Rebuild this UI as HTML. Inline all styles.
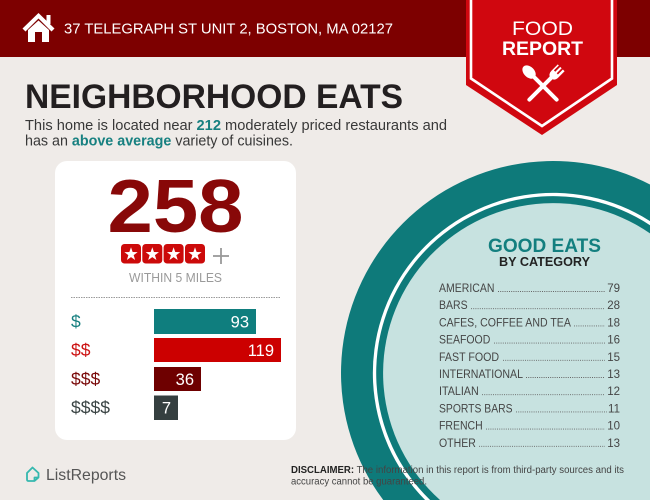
<!DOCTYPE html>
<html><head><meta charset="utf-8"><style>
html,body{margin:0;padding:0;background:#efebe8;width:650px;height:500px;overflow:hidden;}
svg{display:block;font-family:"Liberation Sans",sans-serif;}
</style></head><body>
<svg width="650" height="500" viewBox="0 0 650 500" xmlns="http://www.w3.org/2000/svg">
<rect x="0" y="0" width="650" height="500" fill="#efebe8"/>
<!-- header -->
<rect x="0" y="0" width="650" height="57" fill="#7d0000"/>
<!-- house icon -->
<polygon points="38.5,13 54.5,28.5 51.5,31.5 38.5,18.5 25.5,31.5 22.5,28.5" fill="#fff"/>
<rect x="46.5" y="15" width="4" height="9" fill="#fff"/>
<path d="M28,30 L38.5,20.5 L49,30 L49,42 L42,42 L42,32 L35,32 L35,42 L28,42 Z" fill="#fff"/>
<text x="64" y="33.5" font-size="15" fill="#fff" textLength="329" lengthAdjust="spacingAndGlyphs">37 TELEGRAPH ST UNIT 2, BOSTON, MA 02127</text>

<!-- banner -->
<polygon points="466,0 617,0 617,85 542,135 466,85" fill="#d0070f"/>
<polyline points="471,0 471,78.5 542,126 612,78.5 612,0" fill="none" stroke="#fff" stroke-width="2.6"/>
<text x="542.5" y="35" font-size="19.5" fill="#fff" text-anchor="middle" textLength="61" lengthAdjust="spacingAndGlyphs">FOOD</text>
<text x="542.5" y="55" font-size="19" font-weight="bold" fill="#fff" text-anchor="middle" textLength="81" lengthAdjust="spacingAndGlyphs">REPORT</text>
<!-- spoon -->
<g transform="translate(534,77) rotate(-45)" fill="#fff">
  <ellipse cx="0" cy="-7" rx="5.3" ry="7.8"/>
  <rect x="-2" y="-1" width="4" height="35" rx="2"/>
</g>
<!-- fork -->
<g transform="translate(552,77) rotate(45)" fill="#fff">
  <path d="M-4.8,-13 L-3.3,-13 L-3.3,-6 L-1.4,-6 L-1.4,-13 L0.7,-13 L0.7,-6 L2.4,-6 L2.4,-13 L4.8,-13 L4.8,-4 Q4.8,1 0,2 Q-4.8,1 -4.8,-4 Z"/>
  <rect x="-2" y="0" width="4" height="34" rx="2"/>
</g>

<!-- title -->
<text x="25" y="108" font-size="34" font-weight="bold" fill="#231f20" textLength="378" lengthAdjust="spacingAndGlyphs">NEIGHBORHOOD EATS</text>
<text x="25" y="130" font-size="14.6" fill="#383838" textLength="422" lengthAdjust="spacingAndGlyphs">This home is located near <tspan font-weight="bold" fill="#178080">212</tspan> moderately priced restaurants and</text>
<text x="25" y="145.5" font-size="14.6" fill="#383838" textLength="268" lengthAdjust="spacingAndGlyphs">has an <tspan font-weight="bold" fill="#178080">above average</tspan> variety of cuisines.</text>

<!-- card -->
<rect x="55" y="161" width="241" height="279" rx="12" fill="#fff"/>
<text x="175.5" y="232" font-size="75" font-weight="bold" fill="#880808" text-anchor="middle" textLength="136" lengthAdjust="spacingAndGlyphs">258</text>
<g>
  <rect x="121" y="244" width="20" height="19.5" rx="3.5" fill="#cc0a0a"/>
  <rect x="142.3" y="244" width="20" height="19.5" rx="3.5" fill="#cc0a0a"/>
  <rect x="163.6" y="244" width="20" height="19.5" rx="3.5" fill="#cc0a0a"/>
  <rect x="185" y="244" width="20" height="19.5" rx="3.5" fill="#cc0a0a"/>
  <g fill="#fff">
    <polygon transform="translate(131,254.3)" points="0,-7 1.646,-2.265 6.657,-2.163 2.663,0.865 4.114,5.663 0,2.8 -4.114,5.663 -2.663,0.865 -6.657,-2.163 -1.646,-2.265"/>
    <polygon transform="translate(152.3,254.3)" points="0,-7 1.646,-2.265 6.657,-2.163 2.663,0.865 4.114,5.663 0,2.8 -4.114,5.663 -2.663,0.865 -6.657,-2.163 -1.646,-2.265"/>
    <polygon transform="translate(173.6,254.3)" points="0,-7 1.646,-2.265 6.657,-2.163 2.663,0.865 4.114,5.663 0,2.8 -4.114,5.663 -2.663,0.865 -6.657,-2.163 -1.646,-2.265"/>
    <polygon transform="translate(195,254.3)" points="0,-7 1.646,-2.265 6.657,-2.163 2.663,0.865 4.114,5.663 0,2.8 -4.114,5.663 -2.663,0.865 -6.657,-2.163 -1.646,-2.265"/>
  </g>
  <line x1="213" y1="256" x2="229" y2="256" stroke="#999" stroke-width="1.8"/>
  <line x1="221" y1="248" x2="221" y2="264" stroke="#999" stroke-width="1.8"/>
</g>
<text x="175.5" y="282" font-size="12.5" fill="#9a9a9a" text-anchor="middle" textLength="93" lengthAdjust="spacingAndGlyphs">WITHIN 5 MILES</text>
<line x1="71" y1="297.5" x2="281" y2="297.5" stroke="#9a9a9a" stroke-width="1" stroke-dasharray="1.5,1"/>

<!-- price bars -->
<text x="71" y="327.5" font-size="17.5" fill="#178080">$</text>
<text x="71" y="356" font-size="17.5" fill="#cc1111">$$</text>
<text x="71" y="385" font-size="17.5" fill="#7a0a0a">$$$</text>
<text x="71" y="413.5" font-size="17.5" fill="#3a4444">$$$$</text>
<rect x="154" y="309" width="102" height="25" fill="#0f7e7e"/>
<rect x="154" y="338" width="127" height="24" fill="#cc0000"/>
<rect x="154" y="367" width="47" height="24" fill="#6e0000"/>
<rect x="154" y="395.5" width="24" height="24.5" fill="#353f40"/>
<text x="249" y="327.5" font-size="16.5" fill="#fff" text-anchor="end">93</text>
<text x="274" y="356" font-size="16.5" fill="#fff" text-anchor="end">119</text>
<text x="194" y="385" font-size="16.5" fill="#fff" text-anchor="end">36</text>
<text x="171" y="413.5" font-size="16.5" fill="#fff" text-anchor="end">7</text>

<!-- circle (pre-clipped to frame) -->
<path d="M383.25,500 A212,212 0 0 1 650,184.5 L650,500 Z" fill="#0e7a7a"/>
<path d="M425.1,500 A180.25,180.25 0 0 1 650,221.1 L650,500 Z" fill="#fff"/>
<path d="M430.1,500 A176.75,176.75 0 0 1 650,225.2 L650,500 Z" fill="#0e7a7a"/>
<path d="M440,500 A170,170 0 0 1 650,233.4 L650,500 Z" fill="#c7e2e0"/>
<text x="544.5" y="252" font-size="19" font-weight="bold" fill="#137f7f" text-anchor="middle" textLength="113" lengthAdjust="spacingAndGlyphs">GOOD EATS</text>
<text x="544.5" y="266" font-size="12.5" font-weight="bold" fill="#222" text-anchor="middle" textLength="91" lengthAdjust="spacingAndGlyphs">BY CATEGORY</text>

<g font-size="11.5" fill="#454545">
  <text x="439" y="292" textLength="55.4" lengthAdjust="spacingAndGlyphs">AMERICAN</text>
  <text x="439" y="309.2" textLength="28.6" lengthAdjust="spacingAndGlyphs">BARS</text>
  <text x="439" y="326.4" textLength="131.9" lengthAdjust="spacingAndGlyphs">CAFES, COFFEE AND TEA</text>
  <text x="439" y="343.6" textLength="51.3" lengthAdjust="spacingAndGlyphs">SEAFOOD</text>
  <text x="439" y="360.8" textLength="60.1" lengthAdjust="spacingAndGlyphs">FAST FOOD</text>
  <text x="439" y="378" textLength="84" lengthAdjust="spacingAndGlyphs">INTERNATIONAL</text>
  <text x="439" y="395.2" textLength="39.7" lengthAdjust="spacingAndGlyphs">ITALIAN</text>
  <text x="439" y="412.4" textLength="73.5" lengthAdjust="spacingAndGlyphs">SPORTS BARS</text>
  <text x="439" y="429.6" textLength="43.7" lengthAdjust="spacingAndGlyphs">FRENCH</text>
  <text x="439" y="446.8" textLength="36.8" lengthAdjust="spacingAndGlyphs">OTHER</text>
</g>
<g font-size="11.5" fill="#454545" text-anchor="end">
  <text x="620" y="292">79</text>
  <text x="620" y="309.2">28</text>
  <text x="620" y="326.4">18</text>
  <text x="620" y="343.6">16</text>
  <text x="620" y="360.8">15</text>
  <text x="620" y="378">13</text>
  <text x="620" y="395.2">12</text>
  <text x="620" y="412.4">11</text>
  <text x="620" y="429.6">10</text>
  <text x="620" y="446.8">13</text>
</g>
<g stroke="#666" stroke-width="0.9" stroke-dasharray="1,1.2">
  <line x1="498" y1="291.5" x2="605" y2="291.5"/>
  <line x1="471" y1="308.7" x2="605" y2="308.7"/>
  <line x1="574" y1="325.9" x2="605" y2="325.9"/>
  <line x1="494" y1="343.1" x2="605" y2="343.1"/>
  <line x1="503" y1="360.3" x2="605" y2="360.3"/>
  <line x1="526" y1="377.5" x2="605" y2="377.5"/>
  <line x1="482" y1="394.7" x2="605" y2="394.7"/>
  <line x1="516" y1="411.9" x2="607" y2="411.9"/>
  <line x1="486" y1="429.1" x2="605" y2="429.1"/>
  <line x1="479" y1="446.3" x2="605" y2="446.3"/>
</g>

<!-- footer -->
<path d="M27,473 L32.5,467.5 L38.5,473 L38.5,477.5 L34.5,481 L28.5,481 Q27,481 27,479.5 Z M38.5,477.5 L34.5,477.5 L34.5,481" fill="none" stroke="#35b8ae" stroke-width="1.8" stroke-linejoin="round"/>
<text x="46" y="480" font-size="16" fill="#555" textLength="80" lengthAdjust="spacingAndGlyphs">ListReports</text>
<text x="291" y="473" font-size="9.8" fill="#444" textLength="333" lengthAdjust="spacingAndGlyphs"><tspan font-weight="bold" fill="#222">DISCLAIMER:</tspan> The information in this report is from third-party sources and its</text>
<text x="291" y="484.5" font-size="9.8" fill="#444" textLength="136" lengthAdjust="spacingAndGlyphs">accuracy cannot be guaranteed.</text>
</svg>
</body></html>
